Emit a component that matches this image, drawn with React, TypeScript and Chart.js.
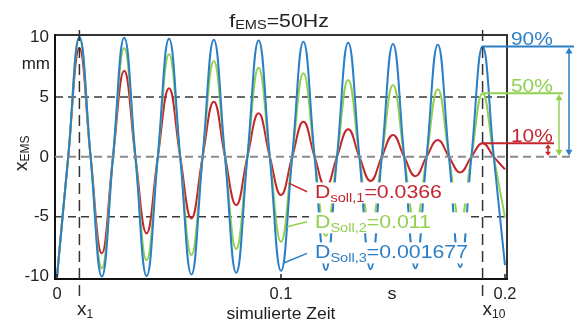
import { useEffect, useRef } from 'react';
import { Chart, registerables } from 'chart.js';

Chart.register(...registerables);

// ---------- data ----------
const TIME = [
  0, 0.005, 0.01, 0.015, 0.02, 0.025, 0.03, 0.035, 0.04, 0.045,
  0.05, 0.055, 0.06, 0.065, 0.07, 0.075, 0.08, 0.085, 0.09, 0.095,
  0.1, 0.105, 0.11, 0.115, 0.12, 0.125, 0.13, 0.135, 0.14, 0.145,
  0.15, 0.155, 0.16, 0.165, 0.17, 0.175, 0.18, 0.185, 0.19, 0.195, 0.2,
];

const RED = [
  -10, 0, 9.06, 0, -8.06, 0, 7.19, 0, -6.39, 0,
  5.72, 0, -5.14, 0, 4.6, 0, -4.03, 0, 3.63, 0,
  -3.19, 0, 2.93, 0, -2.55, 0, 2.3, 0, -2.02, 0,
  1.82, 0, -1.62, 0, 1.4, 0, -1.3, 0, 1.13, 0, -1.05,
];

const GREEN = [
  -10, 0, 9.85, 0, -9.31, 0, 9.06, 0, -8.62, 0,
  8.56, 0, -8.2, 0, 8.0, 0, -7.7, 0, 7.44, 0,
  -7.09, 0, 6.97, 0, -6.6, 0, 6.41, 0, -6.15, 0,
  6.0, 0, -5.75, 0, 5.64, 0, -5.4, 0, 5.3, 0, -5.05,
];

const BLUE = [
  -10, 0, 10.0, 0, -10.0, 0, 9.95, 0, -9.95, 0,
  9.85, 0, -9.82, 0, 9.77, 0, -9.68, 0, 9.72, 0,
  -9.52, 0, 9.6, 0, -9.45, 0, 9.52, 0, -9.38, 0,
  9.42, 0, -9.3, 0, 9.35, 0, -9.2, 0, 9.2, 0, -9.05,
];

const X_TICKS = [0, 0.1, 0.2];
const X_TICK_LABELS = ['0', '0.1', '0.2'];
const Y_TICKS = [-10, -5, 0, 5, 10];
const Y_TICK_LABELS = ['-10', '-5', '0', '5', '10'];
const MARK_TIMES = [0.01, 0.19];
const MARK_SUBS = ['1', '10'];
const SERIES_SUBS = ['soll,1', 'Soll,2', 'Soll,3'];
const DAMPING = ['0.0366', '0.011', '0.001677'];
const PERCENT = ['10%', '50%', '90%'];
const TITLE_MAIN = 'f';
const TITLE_SUB = 'EMS';
const TITLE_REST = '=50Hz';
const X_TITLE = 'simulierte Zeit';
const X_UNIT = 's';
const Y_UNIT = 'mm';

// ---------- styles ----------
const C_RED = '#c4262e';
const C_GREEN = '#92d050';
const C_BLUE = '#2b7fc6';
const SERIES_COLORS = [C_RED, C_GREEN, C_BLUE];
const TXT = '#222222';
const FONT = '"Liberation Sans", Arial, Helvetica, sans-serif';

// annotation anchors in data coordinates
const LABEL_T = 0.1152;
const LABEL_BASE = [-3.47, -5.97, -8.48];
const LEADERS = [
  [0.1035, -2.2, 0.1116, -2.92],
  [0.1027, -5.84, 0.1116, -5.42],
  [0.1009, -8.89, 0.1116, -8.06],
];

type Part = { t: string; size: number; dy?: number };

function richWidth(ctx: CanvasRenderingContext2D, parts: Part[], sx: number) {
  let w = 0;
  for (const p of parts) {
    ctx.font = `${p.size}px ${FONT}`;
    w += ctx.measureText(p.t).width;
  }
  return w * sx;
}

function drawRich(
  ctx: CanvasRenderingContext2D,
  parts: Part[],
  x: number,
  y: number,
  color: string,
  sx = 1.1,
  align: 'left' | 'center' | 'right' = 'left',
) {
  const w = richWidth(ctx, parts, sx);
  let x0 = x;
  if (align === 'center') x0 = x - w / 2;
  if (align === 'right') x0 = x - w;
  ctx.save();
  ctx.translate(x0, y);
  ctx.scale(sx, 1);
  ctx.fillStyle = color;
  ctx.textAlign = 'left';
  ctx.textBaseline = 'alphabetic';
  let cx = 0;
  for (const p of parts) {
    ctx.font = `${p.size}px ${FONT}`;
    ctx.fillText(p.t, cx, p.dy || 0);
    cx += ctx.measureText(p.t).width;
  }
  ctx.restore();
  return w;
}

function seg(ctx: CanvasRenderingContext2D, x1: number, y1: number, x2: number, y2: number) {
  ctx.beginPath();
  ctx.moveTo(x1, y1);
  ctx.lineTo(x2, y2);
  ctx.stroke();
}

function arrowHead(ctx: CanvasRenderingContext2D, x: number, y: number, dir: number, len: number, half: number) {
  ctx.beginPath();
  ctx.moveTo(x, y);
  ctx.lineTo(x - half, y - dir * len);
  ctx.lineTo(x + half, y - dir * len);
  ctx.closePath();
  ctx.fill();
}

const overlay = {
  id: 'overlay',
  beforeDatasetsDraw(chart: any) {
    const { ctx, chartArea: a, scales } = chart;
    const y = scales.y;
    ctx.save();
    ctx.lineWidth = 1.5;
    ctx.setLineDash([8, 5]);
    ctx.strokeStyle = '#3a3a3a';
    for (const v of [5, -5]) {
      const py = y.getPixelForValue(v);
      seg(ctx, a.left, py, a.right, py);
    }
    ctx.setLineDash([]);
    ctx.lineWidth = 2;
    ctx.strokeStyle = '#333';
    ctx.strokeRect(a.left, a.top, a.right - a.left, a.bottom - a.top);
    ctx.strokeStyle = '#111';
    seg(ctx, a.left, a.top - 1, a.left, a.bottom + 1);
    seg(ctx, a.left - 1, a.bottom, a.right + 1, a.bottom);
    ctx.restore();
  },
  afterDatasetsDraw(chart: any) {
    const { ctx, chartArea: a, scales } = chart;
    const x = scales.x;
    const y = scales.y;
    const y0 = y.getPixelForValue(0);
    ctx.save();

    // zero line (extends beyond the plot to the right)
    ctx.setLineDash([8, 5]);
    ctx.lineWidth = 2;
    ctx.strokeStyle = '#8c8c8c';
    seg(ctx, a.left, y0, 573, y0);

    // vertical markers x1, x10
    ctx.setLineDash([11, 6]);
    ctx.lineWidth = 1.5;
    ctx.strokeStyle = '#333';
    for (const t of MARK_TIMES) {
      const px = x.getPixelForValue(t);
      seg(ctx, px, 30, px, 302);
    }
    ctx.setLineDash([]);

    // inward tick marks on the time axis
    ctx.strokeStyle = '#222';
    ctx.lineWidth = 1.5;
    for (const t of X_TICKS) {
      const px = x.getPixelForValue(t);
      seg(ctx, px, a.bottom, px, a.bottom - 5);
    }

    // legend boxes with leader lines
    const lx = x.getPixelForValue(LABEL_T);
    for (let i = 0; i < 3; i++) {
      const by = y.getPixelForValue(LABEL_BASE[i]);
      ctx.fillStyle = '#ffffff';
      ctx.fillRect(lx - 6, by - 16, 162, 21);
    }
    for (let i = 0; i < 3; i++) {
      const [t1, v1, t2, v2] = LEADERS[i];
      ctx.strokeStyle = SERIES_COLORS[i];
      ctx.lineWidth = 1.5;
      seg(ctx, x.getPixelForValue(t1), y.getPixelForValue(v1), x.getPixelForValue(t2), y.getPixelForValue(v2));
      const by = y.getPixelForValue(LABEL_BASE[i]);
      drawRich(
        ctx,
        [
          { t: 'D', size: 19 },
          { t: SERIES_SUBS[i], size: 13, dy: 3.5 },
          { t: '=' + DAMPING[i], size: 19 },
        ],
        lx,
        by,
        SERIES_COLORS[i],
        1.12,
      );
    }

    // right-hand percentage annotations
    const idx10 = TIME.indexOf(MARK_TIMES[1]);
    const peaks = [RED[idx10], GREEN[idx10], BLUE[idx10]];
    const lineEnds = [554, 563, 574];
    const arrowX = [548, 559, 569];
    const px10 = x.getPixelForValue(MARK_TIMES[1]);
    for (let i = 0; i < 3; i++) {
      const py = y.getPixelForValue(peaks[i]);
      const col = SERIES_COLORS[i];
      ctx.strokeStyle = col;
      ctx.fillStyle = col;
      ctx.lineWidth = 2;
      seg(ctx, px10, py, lineEnds[i], py);
      const hl = i === 0 ? 4 : 6;
      const hw = i === 0 ? 3 : 3.5;
      ctx.lineWidth = 1.5;
      seg(ctx, arrowX[i], py + hl, arrowX[i], y0 - hl);
      arrowHead(ctx, arrowX[i], py + 1, -1, hl, hw);
      arrowHead(ctx, arrowX[i], y0 - 1, 1, hl, hw);
      drawRich(ctx, [{ t: PERCENT[i], size: 19 }], 511, py - 1.5, col, 1.1);
    }

    // title
    drawRich(
      ctx,
      [
        { t: TITLE_MAIN, size: 19 },
        { t: TITLE_SUB, size: 13, dy: 2 },
        { t: TITLE_REST, size: 19 },
      ],
      279,
      26.5,
      TXT,
      1.12,
      'center',
    );

    // y unit and y title
    drawRich(ctx, [{ t: Y_UNIT, size: 17 }], 50, 68.5, TXT, 1.0, 'right');
    ctx.save();
    ctx.translate(26.5, 171);
    ctx.rotate(-Math.PI / 2);
    drawRich(
      ctx,
      [
        { t: 'x', size: 19 },
        { t: 'EMS', size: 12, dy: 2 },
      ],
      0,
      0,
      TXT,
      1.0,
    );
    ctx.restore();

    // x unit, x title, marker labels
    drawRich(ctx, [{ t: X_UNIT, size: 16.5 }], x.getPixelForValue(0.1496), 298.5, TXT, 1.1, 'center');
    drawRich(ctx, [{ t: X_TITLE, size: 17 }], x.getPixelForValue(0.1), 319, TXT, 1.03, 'center');
    for (let i = 0; i < MARK_TIMES.length; i++) {
      const px = x.getPixelForValue(MARK_TIMES[i]);
      drawRich(
        ctx,
        [
          { t: 'x', size: 19 },
          { t: MARK_SUBS[i], size: 12, dy: 3 },
        ],
        px - (i === 0 ? 2.5 : 0),
        315,
        TXT,
        1.0,
      );
    }
    ctx.restore();
  },
};

export default function App() {
  const ref = useRef<HTMLCanvasElement | null>(null);

  useEffect(() => {
    if (!ref.current) return;
    const mk = (vals: number[]) => TIME.map((t, i) => ({ x: t, y: vals[i] }));
    const chart = new Chart(ref.current, {
      type: 'line',
      data: {
        datasets: [
          { label: 'D3', data: mk(BLUE), borderColor: C_BLUE, order: 1 },
          { label: 'D2', data: mk(GREEN), borderColor: C_GREEN, order: 2 },
          { label: 'D1', data: mk(RED), borderColor: C_RED, order: 3 },
        ].map((d) => ({
          ...d,
          borderWidth: 2,
          pointRadius: 0,
          tension: 0.45,
          fill: false,
        })),
      },
      options: {
        animation: false,
        responsive: false,
        devicePixelRatio: 1,
        layout: { padding: { left: 0, right: 67, top: 35, bottom: 0 } },
        plugins: { legend: { display: false }, tooltip: { enabled: false } },
        scales: {
          x: {
            type: 'linear',
            min: -0.0009,
            max: 0.2009,
            afterBuildTicks: (s: any) => {
              s.ticks = X_TICKS.map((v) => ({ value: v }));
            },
            afterFit: (s: any) => {
              s.height = 42;
            },
            ticks: {
              autoSkip: false,
              maxRotation: 0,
              padding: 6,
              color: TXT,
              font: { family: FONT, size: 16.5 },
              callback: (v: any) => {
                const i = X_TICKS.indexOf(Number(v));
                return i >= 0 ? X_TICK_LABELS[i] : '';
              },
            },
            grid: { display: false, drawTicks: false },
            border: { display: false },
          },
          y: {
            type: 'linear',
            min: -10.2,
            max: 10.17,
            afterBuildTicks: (s: any) => {
              s.ticks = Y_TICKS.map((v) => ({ value: v }));
            },
            afterFit: (s: any) => {
              s.width = 55;
            },
            ticks: {
              autoSkip: false,
              padding: 6,
              color: TXT,
              font: { family: FONT, size: 17 },
              callback: (v: any) => {
                const i = Y_TICKS.indexOf(Number(v));
                return i >= 0 ? Y_TICK_LABELS[i] : '';
              },
            },
            grid: { display: false, drawTicks: false },
            border: { display: false },
          },
        },
      },
      plugins: [overlay],
    });
    return () => chart.destroy();
  }, []);

  return (
    <div style={{ position: 'absolute', left: 0, top: 0, width: 574, height: 321, background: '#fff' }}>
      <canvas ref={ref} width={574} height={321} style={{ width: 574, height: 321, display: 'block' }} />
    </div>
  );
}
